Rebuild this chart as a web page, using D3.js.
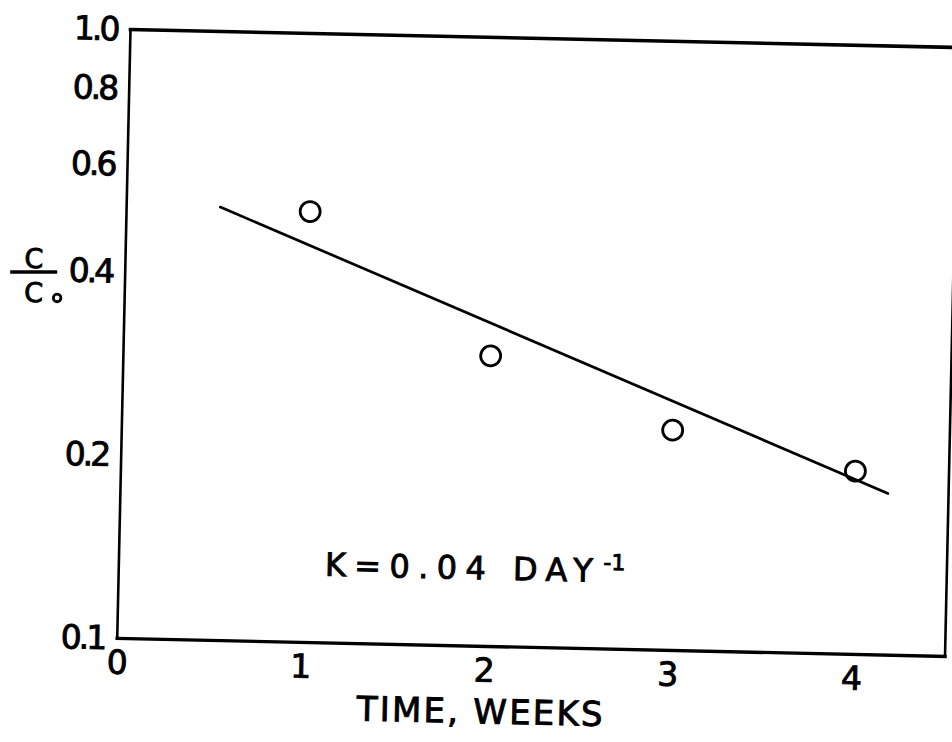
<!DOCTYPE html>
<html>
<head>
<meta charset="utf-8">
<script src="https://cdn.jsdelivr.net/npm/d3@7"></script>
<style>
  html, body { margin: 0; padding: 0; background: #fff; }
  svg { display: block; }
  text { font-family: "DejaVu Sans", sans-serif; fill: #000; stroke: #000; stroke-width: 0.9px; }
</style>
</head>
<body>
<svg id="chart" width="952" height="742"></svg>
<script>
// Measured concentration ratio C/C0 at weekly intervals
const weeks = [1, 2, 3, 4];
const ratio = [0.51, 0.30, 0.23, 0.20];

// Axis ticks
const xTicks = [0, 1, 2, 3, 4];
const xTickLabels = ["0", "1", "2", "3", "4"];
const yTicks = [0.1, 0.2, 0.4, 0.6, 0.8, 1.0];
const yTickLabels = ["0.1", "0.2", "0.4", "0.6", "0.8", "1.0"];

// First-order decay fit: C/C0 = c0 * exp(-K * days)
const rateK = 0.04;          // per day
const fitC0 = 0.594;
const fitSpan = [0.51, 4.18]; // weeks covered by the drawn fit line

const W = 828, H = 609;
const svg = d3.select("#chart");
// the sheet sits slightly turned on the page
const g = svg.append("g")
  .attr("transform", "translate(130.5,29.5) rotate(1.25)");

const x = d3.scaleLinear().domain([0, 4.51]).range([0, W]);
const y = d3.scaleLog().domain([0.1, 1.0]).range([H, 0]);

// frame
const frame = [
  { x1: 0, y1: 0, x2: W, y2: 0, w: 3.6 },
  { x1: 0, y1: 0, x2: 0, y2: H, w: 2.6 },
  { x1: 0, y1: H, x2: W, y2: H, w: 3.4 },
  { x1: W, y1: 0, x2: W, y2: H, w: 2.6 }
];
g.selectAll("line.frame").data(frame).enter().append("line")
  .attr("class", "frame")
  .attr("x1", d => d.x1).attr("y1", d => d.y1)
  .attr("x2", d => d.x2).attr("y2", d => d.y2)
  .attr("stroke", "#000").attr("stroke-width", d => d.w)
  .attr("stroke-linecap", "square");

// axes (labels only, no tick marks)
const xAxis = d3.axisBottom(x)
  .tickValues(xTicks)
  .tickFormat((d, i) => xTickLabels[i])
  .tickSize(0).tickPadding(12);
const xg = g.append("g").attr("transform", `translate(0,${H})`).call(xAxis);
xg.select(".domain").remove();
xg.selectAll("text").attr("font-size", 33).attr("font-family", "DejaVu Sans, sans-serif")
  .attr("fill", "#000").attr("stroke", "#000").attr("stroke-width", 0.9);

const yAxis = d3.axisLeft(y)
  .tickValues(yTicks)
  .tickFormat((d, i) => yTickLabels[i])
  .tickSize(0).tickPadding(13);
const yg = g.append("g").call(yAxis);
yg.select(".domain").remove();
yg.selectAll("text").attr("font-size", 33).attr("font-family", "DejaVu Sans, sans-serif")
  .attr("fill", "#000").attr("stroke", "#000").attr("stroke-width", 0.9)
  .attr("letter-spacing", -3);

// fit line
const fitPts = fitSpan.map(t => [t, fitC0 * Math.exp(-rateK * 7 * t)]);
g.append("path")
  .datum(fitPts)
  .attr("d", d3.line().x(d => x(d[0])).y(d => y(d[1])))
  .attr("fill", "none")
  .attr("stroke", "#000")
  .attr("stroke-width", 2.7)
  .attr("stroke-linecap", "round");

// data points
g.selectAll("circle.pt").data(weeks).enter().append("circle")
  .attr("class", "pt")
  .attr("cx", d => x(d))
  .attr("cy", (d, i) => y(ratio[i]))
  .attr("r", 10)
  .attr("fill", "none")
  .attr("stroke", "#000")
  .attr("stroke-width", 2.8);

// x axis title
g.append("text")
  .attr("x", 364).attr("y", 686)
  .attr("text-anchor", "middle")
  .attr("font-size", 34)
  .attr("textLength", 246)
  .attr("lengthAdjust", "spacing")
  .text("TIME, WEEKS");

// y axis title: C over C0
g.append("text")
  .attr("x", -91.5).attr("y", 240.5)
  .attr("text-anchor", "middle")
  .attr("font-size", 27)
  .text("C");
g.append("line")
  .attr("x1", -115).attr("y1", 245)
  .attr("x2", -68).attr("y2", 244)
  .attr("stroke", "#000").attr("stroke-width", 3.4);
g.append("text")
  .attr("x", -91).attr("y", 274.5)
  .attr("text-anchor", "middle")
  .attr("font-size", 27)
  .text("C");
g.append("circle")
  .attr("cx", -67.5).attr("cy", 270)
  .attr("r", 3.8)
  .attr("fill", "none").attr("stroke", "#000").attr("stroke-width", 2.8);

// rate constant annotation
const kText = g.append("text")
  .attr("x", 206).attr("y", 542)
  .attr("font-size", 32);
kText.append("tspan")
  .attr("textLength", 268)
  .attr("lengthAdjust", "spacing")
  .text(`K=${rateK.toFixed(2)} DAY`);
kText.append("tspan")
  .attr("dx", 2).attr("dy", -12)
  .attr("font-size", 22)
  .text("-1");
</script>
</body>
</html>
